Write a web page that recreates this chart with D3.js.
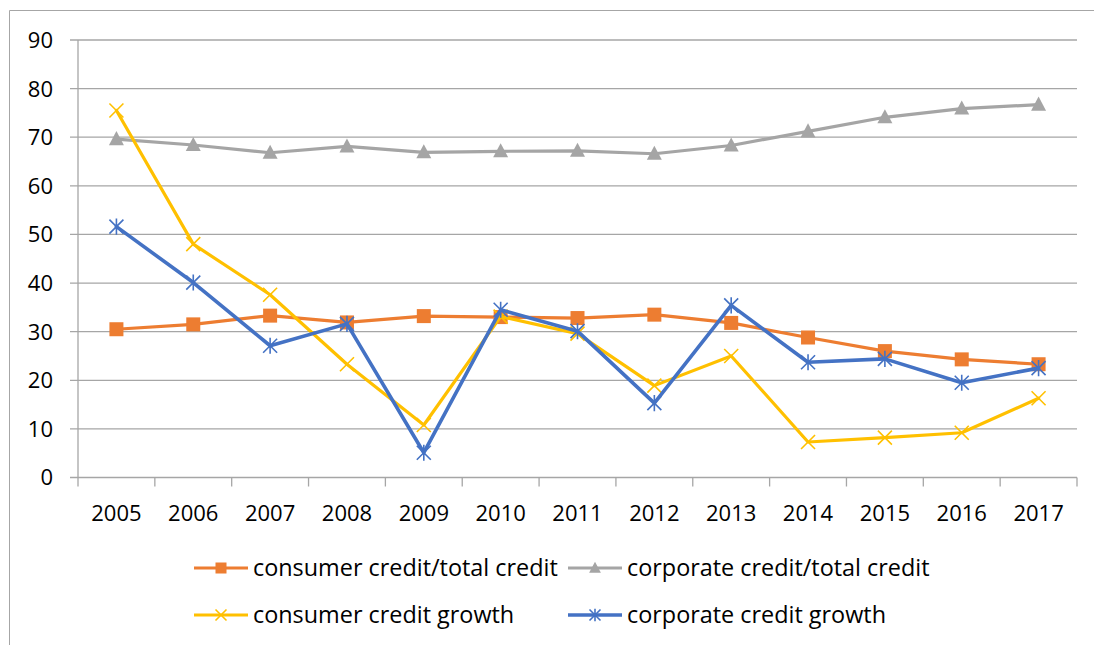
<!DOCTYPE html>
<html>
<head>
<meta charset="utf-8">
<script src="https://cdn.jsdelivr.net/npm/d3@7"></script>
<style>
  html, body { margin: 0; padding: 0; background: #fff; }
  svg { display: block; }
  text { font-family: "Open Sans", Lato, sans-serif; fill: #000; }
</style>
</head>
<body>
<svg id="chart" width="1094" height="645"></svg>
<script>
const years = ["2005","2006","2007","2008","2009","2010","2011","2012","2013","2014","2015","2016","2017"];
const yTicks = [0,10,20,30,40,50,60,70,80,90];
const consumerShare  = [30.5,31.5,33.3,31.9,33.2,33.0,32.8,33.5,31.8,28.8,26.0,24.3,23.3];
const corporateShare = [69.6,68.4,66.8,68.1,66.9,67.1,67.2,66.6,68.3,71.2,74.1,75.9,76.7];
const consumerGrowth = [75.5,48.0,37.6,23.3,10.8,33.1,29.6,18.9,25.0,7.3,8.2,9.2,16.3];
const corporateGrowth= [51.6,40.1,27.1,31.6,5.1,34.5,30.1,15.3,35.4,23.7,24.4,19.5,22.5];
const seriesNames = ["consumer credit/total credit","corporate credit/total credit","consumer credit growth","corporate credit growth"];

const series = [
  {name: seriesNames[0], values: consumerShare,   color: "#ED7D31", marker: "square", width: 3.2},
  {name: seriesNames[1], values: corporateShare,  color: "#A5A5A5", marker: "triangle", width: 3.2},
  {name: seriesNames[2], values: consumerGrowth,  color: "#FFC000", marker: "x", width: 3.2},
  {name: seriesNames[3], values: corporateGrowth, color: "#4472C4", marker: "star", width: 3.6}
];

const svg = d3.select("#chart");
const L = 78, R = 1077, T = 40, B = 477.5;
const FS = 22;
const LFS = 23.4;

// outer frame (cropped chart area border)
svg.append("path")
  .attr("d", "M9.5,645 L9.5,10.5 L1094,10.5")
  .attr("fill", "none").attr("stroke", "#a6a6a6").attr("stroke-width", 1);

const x = d3.scaleBand().domain(years).range([L, R]).padding(0);
const y = d3.scaleLinear().domain([0, 90]).range([B, T]);

// gridlines
svg.append("g").selectAll("line").data(yTicks).join("line")
  .attr("x1", L - 8).attr("x2", R)
  .attr("y1", d => y(d)).attr("y2", d => y(d))
  .attr("stroke", "#a6a6a6").attr("stroke-width", 1.3);

// y axis line
svg.append("line").attr("x1", L).attr("x2", L).attr("y1", T).attr("y2", B)
  .attr("stroke", "#a6a6a6").attr("stroke-width", 1.3);

// y labels
svg.append("g").selectAll("text").data(yTicks).join("text")
  .attr("x", 53).attr("y", d => y(d)).attr("dy", "0.36em")
  .attr("text-anchor", "end").attr("font-size", FS)
  .text(d => d);

// x tick marks at band boundaries
const bounds = years.map(d => x(d)).concat([R]);
svg.append("g").selectAll("line").data(bounds).join("line")
  .attr("x1", d => d).attr("x2", d => d)
  .attr("y1", B).attr("y2", B + 9)
  .attr("stroke", "#a6a6a6").attr("stroke-width", 1.3);

// x labels
svg.append("g").selectAll("text").data(years).join("text")
  .attr("x", d => x(d) + x.bandwidth() / 2).attr("y", 513).attr("dy", "0.36em")
  .attr("text-anchor", "middle").attr("font-size", FS)
  .text(d => d);

function drawMarker(g, type, color, cx, cy, r) {
  if (type === "square") {
    g.append("rect").attr("x", cx - r).attr("y", cy - r).attr("width", 2 * r).attr("height", 2 * r)
      .attr("fill", color);
  } else if (type === "triangle") {
    g.append("path").attr("d", `M${cx},${cy - r * 1.15} L${cx + r * 1.07},${cy + r * 0.86} L${cx - r * 1.07},${cy + r * 0.86} Z`)
      .attr("fill", color);
  } else if (type === "x") {
    g.append("path").attr("d", `M${cx - r},${cy - r} L${cx + r},${cy + r} M${cx - r},${cy + r} L${cx + r},${cy - r}`)
      .attr("stroke", color).attr("stroke-width", 1.6).attr("fill", "none");
  } else if (type === "star") {
    g.append("path").attr("d", `M${cx - r},${cy - r} L${cx + r},${cy + r} M${cx - r},${cy + r} L${cx + r},${cy - r} M${cx},${cy - r * 1.15} L${cx},${cy + r * 1.15}`)
      .attr("stroke", color).attr("stroke-width", 1.6).attr("fill", "none");
  }
}

const line = d3.line().x((d, i) => x(years[i]) + x.bandwidth() / 2).y(d => y(d));

series.forEach(s => {
  const g = svg.append("g");
  g.append("path").datum(s.values).attr("d", line)
    .attr("fill", "none").attr("stroke", s.color).attr("stroke-width", s.width)
    .attr("stroke-linejoin", "round").attr("stroke-linecap", "round");
  s.values.forEach((v, i) => drawMarker(g, s.marker, s.color, x(years[i]) + x.bandwidth() / 2, y(v), 7));
});

// legend
const legendPos = [
  {x: 194, y: 568}, {x: 568, y: 568},
  {x: 194, y: 615}, {x: 568, y: 615}
];
series.forEach((s, i) => {
  const p = legendPos[i];
  const g = svg.append("g");
  g.append("line").attr("x1", p.x).attr("x2", p.x + 54).attr("y1", p.y).attr("y2", p.y)
    .attr("stroke", s.color).attr("stroke-width", s.width);
  drawMarker(g, s.marker, s.color, p.x + 27, p.y, 5.5);
  g.append("text").attr("x", p.x + 59).attr("y", p.y).attr("dy", "0.36em")
    .attr("font-size", LFS).text(s.name);
});
</script>
</body>
</html>
